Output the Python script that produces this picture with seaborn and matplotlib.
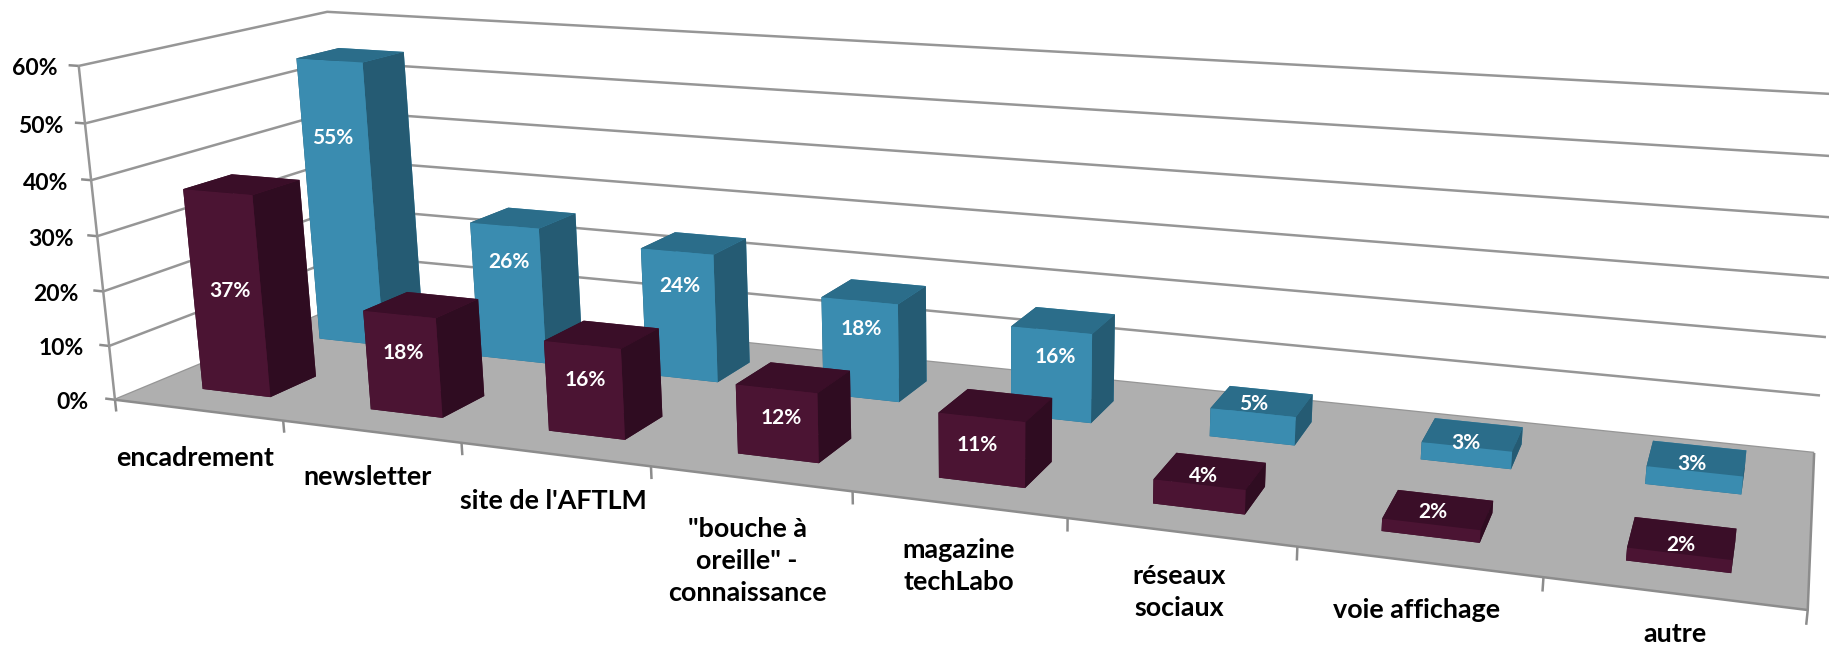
import numpy as np
import matplotlib
matplotlib.use('Agg')
import matplotlib.pyplot as plt
import seaborn as sns
from mpl_toolkits.mplot3d.art3d import Poly3DCollection, Line3DCollection

# --- Data ---
categories = ['encadrement', 'newsletter', "site de l'AFTLM",
              '"bouche à\noreille" -\nconnaissance', 'magazine\ntechLabo',
              'réseaux\nsociaux', 'voie affichage', 'autre']
front_values = [37, 18, 16, 12, 11, 4, 2, 2]
back_values = [55, 26, 24, 18, 16, 5, 3, 3]
y_ticks = [0, 10, 20, 30, 40, 50, 60]

# --- Layout (pixels of the 1829x645 picture) ---
W, H = 1829, 645
front_label_xy = [(230, 291), (403, 353), (585, 380), (781, 418),
                  (977, 445), (1203, 476), (1433, 512), (1681, 545)]
back_label_xy = [(333, 138), (509, 262), (680, 286), (861, 329),
                 (1055, 357), (1254, 404), (1466, 443), (1692, 464)]
category_xy = [(195, 458), (368, 477), (553, 501), (747, 561),
               (959, 566), (1179, 592), (1417, 610), (1675, 634)]

# the camera: where some corners of the chart box land in the picture
camera_world = [(0, 0, 0), (0, 0, 60), (0, 1, 60), (0, 1, 0),
                (8, 1, 0), (8, 1, 60), (8, 0, 0),
                (1, 0, 0), (2, 0, 0), (3, 0, 0), (4, 0, 0),
                (5, 0, 0), (6, 0, 0), (7, 0, 0)]
camera_px = [(115.6, 399), (80.9, 65.7), (325, 12), (352, 302),
             (1814, 453), (1851, 95), (1808, 609),
             (281.7, 420), (461, 443), (650, 467), (852, 493),
             (1067, 520), (1298, 545), (1544, 577)]

BAR_X, BAR_DX = 0.295, 0.41
FRONT_Y, BACK_Y, BAR_DY = 0.15, 0.645, 0.19

sns.set_theme(style='white')
plt.rcParams['font.family'] = ['Lato', 'DejaVu Sans']
# front, top, side shade of each series
front_cols = sns.color_palette(['#4b1433', '#3a0e28', '#2f0c21'])
back_cols = sns.color_palette(['#3a8cb0', '#2b6d8a', '#255b73'])
GRID = '#969696'
AXIS = '#8c8c8c'
FLOOR = '#afafaf'


def fit_camera(world, px):
    # direct linear transform, scaled to keep the numbers well conditioned
    rows = []
    for (x, y, z), (u, v) in zip(world, px):
        x, z, u, v = x / 8, z / 60, u / W, v / H
        rows.append([x, y, z, 1, 0, 0, 0, 0, -u * x, -u * y, -u * z, -u])
        rows.append([0, 0, 0, 0, x, y, z, 1, -v * x, -v * y, -v * z, -v])
    p = np.linalg.svd(np.array(rows))[2][-1].reshape(3, 4)
    p = np.diag([W, H, 1]) @ p @ np.diag([1 / 8, 1, 1 / 60, 1])
    p = p / p[2, 3]
    # depth row grows with distance, mplot3d sorts faces on it
    return np.vstack([p[0], p[1], p[2] - [0, 0, 0, 0.5], p[2]])


M = fit_camera(camera_world, camera_px)

fig = plt.figure(figsize=(W / 100, H / 100), dpi=100)
ax = fig.add_axes([0, 0, 1, 1], projection='3d', computed_zorder=False)
ax.set_axis_off()
ax.apply_aspect = lambda position=None: None
ax.get_proj = lambda: M
ax.viewLim.intervalx = (0, W)
ax.viewLim.intervaly = (H, 0)


def to_px(x, y, z):
    q = M @ np.array([x, y, z, 1.0])
    return q[0] / q[3], q[1] / q[3]


def add_lines(segments, color, zorder):
    ax.add_collection3d(Line3DCollection(segments, colors=color, linewidths=1.8,
                                         zorder=zorder), autolim=False)


# walls
wall_lines = []
tick_lines = []
for t in y_ticks:
    wall_lines.append([(0, 0, t), (0, 1, t), (8, 1, t)])
    tick_lines.append([(-0.06, 0, t), (0, 0, t)])
    tx, ty = to_px(0, 0, t)
    ax.text2D(tx - 26.5 + t * 0.09, ty + 3, f'{t}%', transform=ax.transData,
              ha='right', va='center', fontsize=16.5, fontweight='bold',
              color='black')
add_lines(wall_lines, GRID, 1)

# floor
floor = Poly3DCollection([[(0, 0, 0), (8, 0, 0), (8, 1, 0), (0, 1, 0)]],
                         facecolor=FLOOR, edgecolor='none', zorder=2)
ax.add_collection3d(floor, autolim=False)

# axis lines and ticks over the floor
tick_lines += [[(i, 0, 0), (i, 0, -2.2)] for i in range(9)]
tick_lines.append([(0, 0, 0), (8, 0, 0), (8, 1, 0)])
add_lines(tick_lines, AXIS, 3)
add_lines([[(0, 0, 0), (0, 0, 60)]], GRID, 3)

# bars, back row first then front row, left to right
for row, (vals, y0, cols) in enumerate([(back_values, BACK_Y, back_cols),
                                        (front_values, FRONT_Y, front_cols)]):
    for i, v in enumerate(vals):
        face, top, side = cols
        bar = ax.bar3d(i + BAR_X, y0, 0, BAR_DX, BAR_DY, v, shade=False,
                       color=[top, top, face, face, side, side],
                       edgecolor='none')
        bar.set_zorder(4 + row * 20 + i)

# value labels
for vals, xy in [(back_values, back_label_xy), (front_values, front_label_xy)]:
    for v, (lx, ly) in zip(vals, xy):
        ax.text2D(lx, ly, f'{v}%', transform=ax.transData, ha='center',
                  va='center', fontsize=15, fontweight='bold', color='white',
                  zorder=60)

# category labels
for name, (lx, ly) in zip(categories, category_xy):
    ax.text2D(lx, ly, name, transform=ax.transData, ha='center', va='center',
              fontsize=19.4, fontweight='bold', color='black', linespacing=1.4,
              zorder=60)

fig.savefig('out.png', dpi=100, facecolor='white')
